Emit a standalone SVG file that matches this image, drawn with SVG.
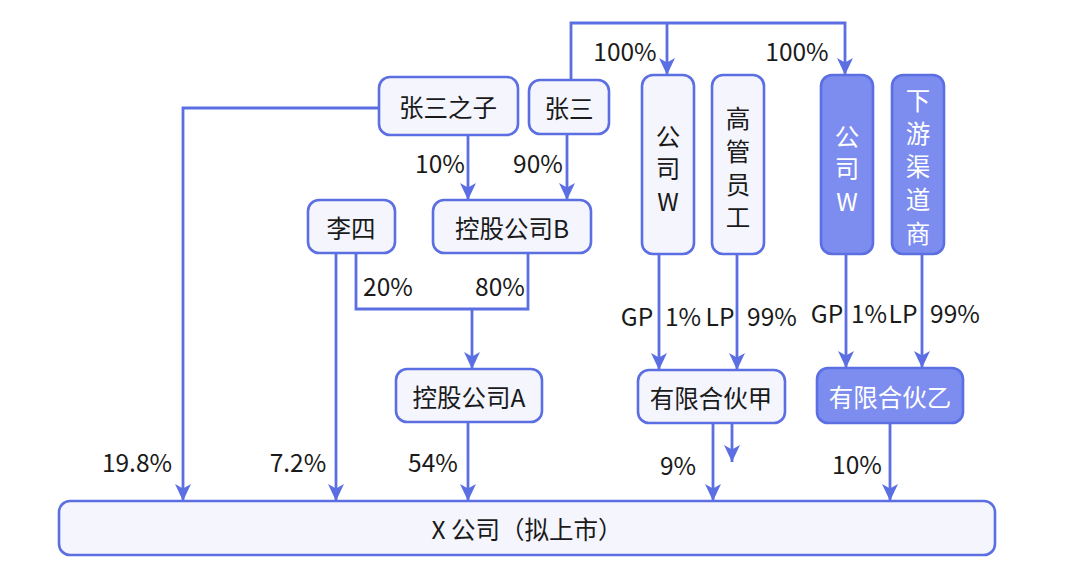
<svg xmlns="http://www.w3.org/2000/svg" width="1080" height="561" viewBox="0 0 1080 561">
<defs>
<marker id="arr" markerUnits="userSpaceOnUse" markerWidth="18" markerHeight="18" refX="17" refY="8" orient="auto" viewBox="0 0 18 16">
<path d="M0,0 L17,8 L0,16 L4.5,8 z" fill="#5b6fe3"/>
</marker>
<style>
.n rect{fill:#f4f5fd;stroke:#5b6fe3;stroke-width:2.6}
.f rect{fill:#7c8cef;stroke:#5b6fe3;stroke-width:2.6}
text{font-family:"Noto Sans CJK SC","Noto Sans",sans-serif;font-size:24.5px;fill:#1a1a1a;text-anchor:middle;dominant-baseline:central}
.f text{fill:#ffffff}
.c path{fill:none;stroke:#5b6fe3;stroke-width:2.8}
.c path.a{marker-end:url(#arr)}
</style>
</defs>
<rect width="1080" height="561" fill="#ffffff"/>
<g class="c" id="connectors">
<path class="a" d="M571,80 V23 H845 V75"/>
<path class="a" d="M667,23 V75"/>
<path class="a" d="M379,108 H183 V501"/>
<path class="a" d="M468,135 V200"/>
<path class="a" d="M567,133 V200"/>
<path class="a" d="M336,253 V501"/>
<path d="M356,253 V309 H528 V253"/>
<path class="a" d="M472,309 V369"/>
<path class="a" d="M468,422 V501"/>
<path class="a" d="M659,254 V370"/>
<path class="a" d="M737,254 V370"/>
<path class="a" d="M846,254 V368"/>
<path class="a" d="M922,254 V368"/>
<path class="a" d="M713,423 V501"/>
<path class="a" d="M732,423 V462"/>
<path class="a" d="M890,423 V501"/>
</g>
<g id="labels">
<text x="625" y="50">100%</text>
<text x="797" y="50">100%</text>
<text x="440" y="162">10%</text>
<text x="538" y="162">90%</text>
<text x="388" y="285">20%</text>
<text x="500" y="285">80%</text>
<text x="637" y="315">GP</text>
<text x="683" y="315">1%</text>
<text x="720" y="315">LP</text>
<text x="772" y="315">99%</text>
<text x="827" y="312">GP</text>
<text x="869" y="312">1%</text>
<text x="903" y="312">LP</text>
<text x="955" y="312">99%</text>
<text x="137" y="461">19.8%</text>
<text x="298" y="461">7.2%</text>
<text x="433" y="461">54%</text>
<text x="678" y="464">9%</text>
<text x="857" y="463">10%</text>
</g>
<g id="n-zhangsanzhizi" class="n"><rect x="379" y="77" width="139" height="58" rx="11"/><text x="448" y="106">张三之子</text></g>
<g id="n-zhangsan" class="n"><rect x="529" y="80" width="80" height="54" rx="11"/><text x="569" y="107">张三</text></g>
<g id="n-lisi" class="n"><rect x="308" y="200" width="87" height="53" rx="11"/><text x="351" y="227">李四</text></g>
<g id="n-holdB" class="n"><rect x="433" y="200" width="158" height="53" rx="11"/><text x="512" y="227">控股公司B</text></g>
<g id="n-holdA" class="n"><rect x="396" y="369" width="146" height="53" rx="11"/><text x="469" y="396">控股公司A</text></g>
<g id="n-companyW1" class="n"><rect x="642" y="75" width="52" height="179" rx="11"/><text x="668" y="135"><tspan x="668" y="135">公</tspan><tspan x="668" y="167">司</tspan><tspan x="668" y="200">W</tspan></text></g>
<g id="n-executives" class="n"><rect x="712" y="75" width="52" height="179" rx="11"/><text x="738" y="117"><tspan x="738" y="117">高</tspan><tspan x="738" y="150">管</tspan><tspan x="738" y="183">员</tspan><tspan x="738" y="216">工</tspan></text></g>
<g id="n-companyW2" class="f"><rect x="821" y="75" width="52" height="179" rx="11"/><text x="847" y="135"><tspan x="847" y="135">公</tspan><tspan x="847" y="167">司</tspan><tspan x="847" y="200">W</tspan></text></g>
<g id="n-distributors" class="f"><rect x="892" y="75" width="52" height="179" rx="11"/><text x="918" y="99"><tspan x="918" y="99">下</tspan><tspan x="918" y="132">游</tspan><tspan x="918" y="165">渠</tspan><tspan x="918" y="198">道</tspan><tspan x="918" y="232">商</tspan></text></g>
<g id="n-lpjia" class="n"><rect x="638" y="370" width="147" height="53" rx="11"/><text x="711" y="397">有限合伙甲</text></g>
<g id="n-lpyi" class="f"><rect x="817" y="368" width="146" height="55" rx="11"/><text x="890" y="396">有限合伙乙</text></g>
<g id="n-xcompany" class="n"><rect x="59" y="501" width="936" height="54" rx="11"/><text x="527" y="528">X 公司（拟上市）</text></g>
</svg>
